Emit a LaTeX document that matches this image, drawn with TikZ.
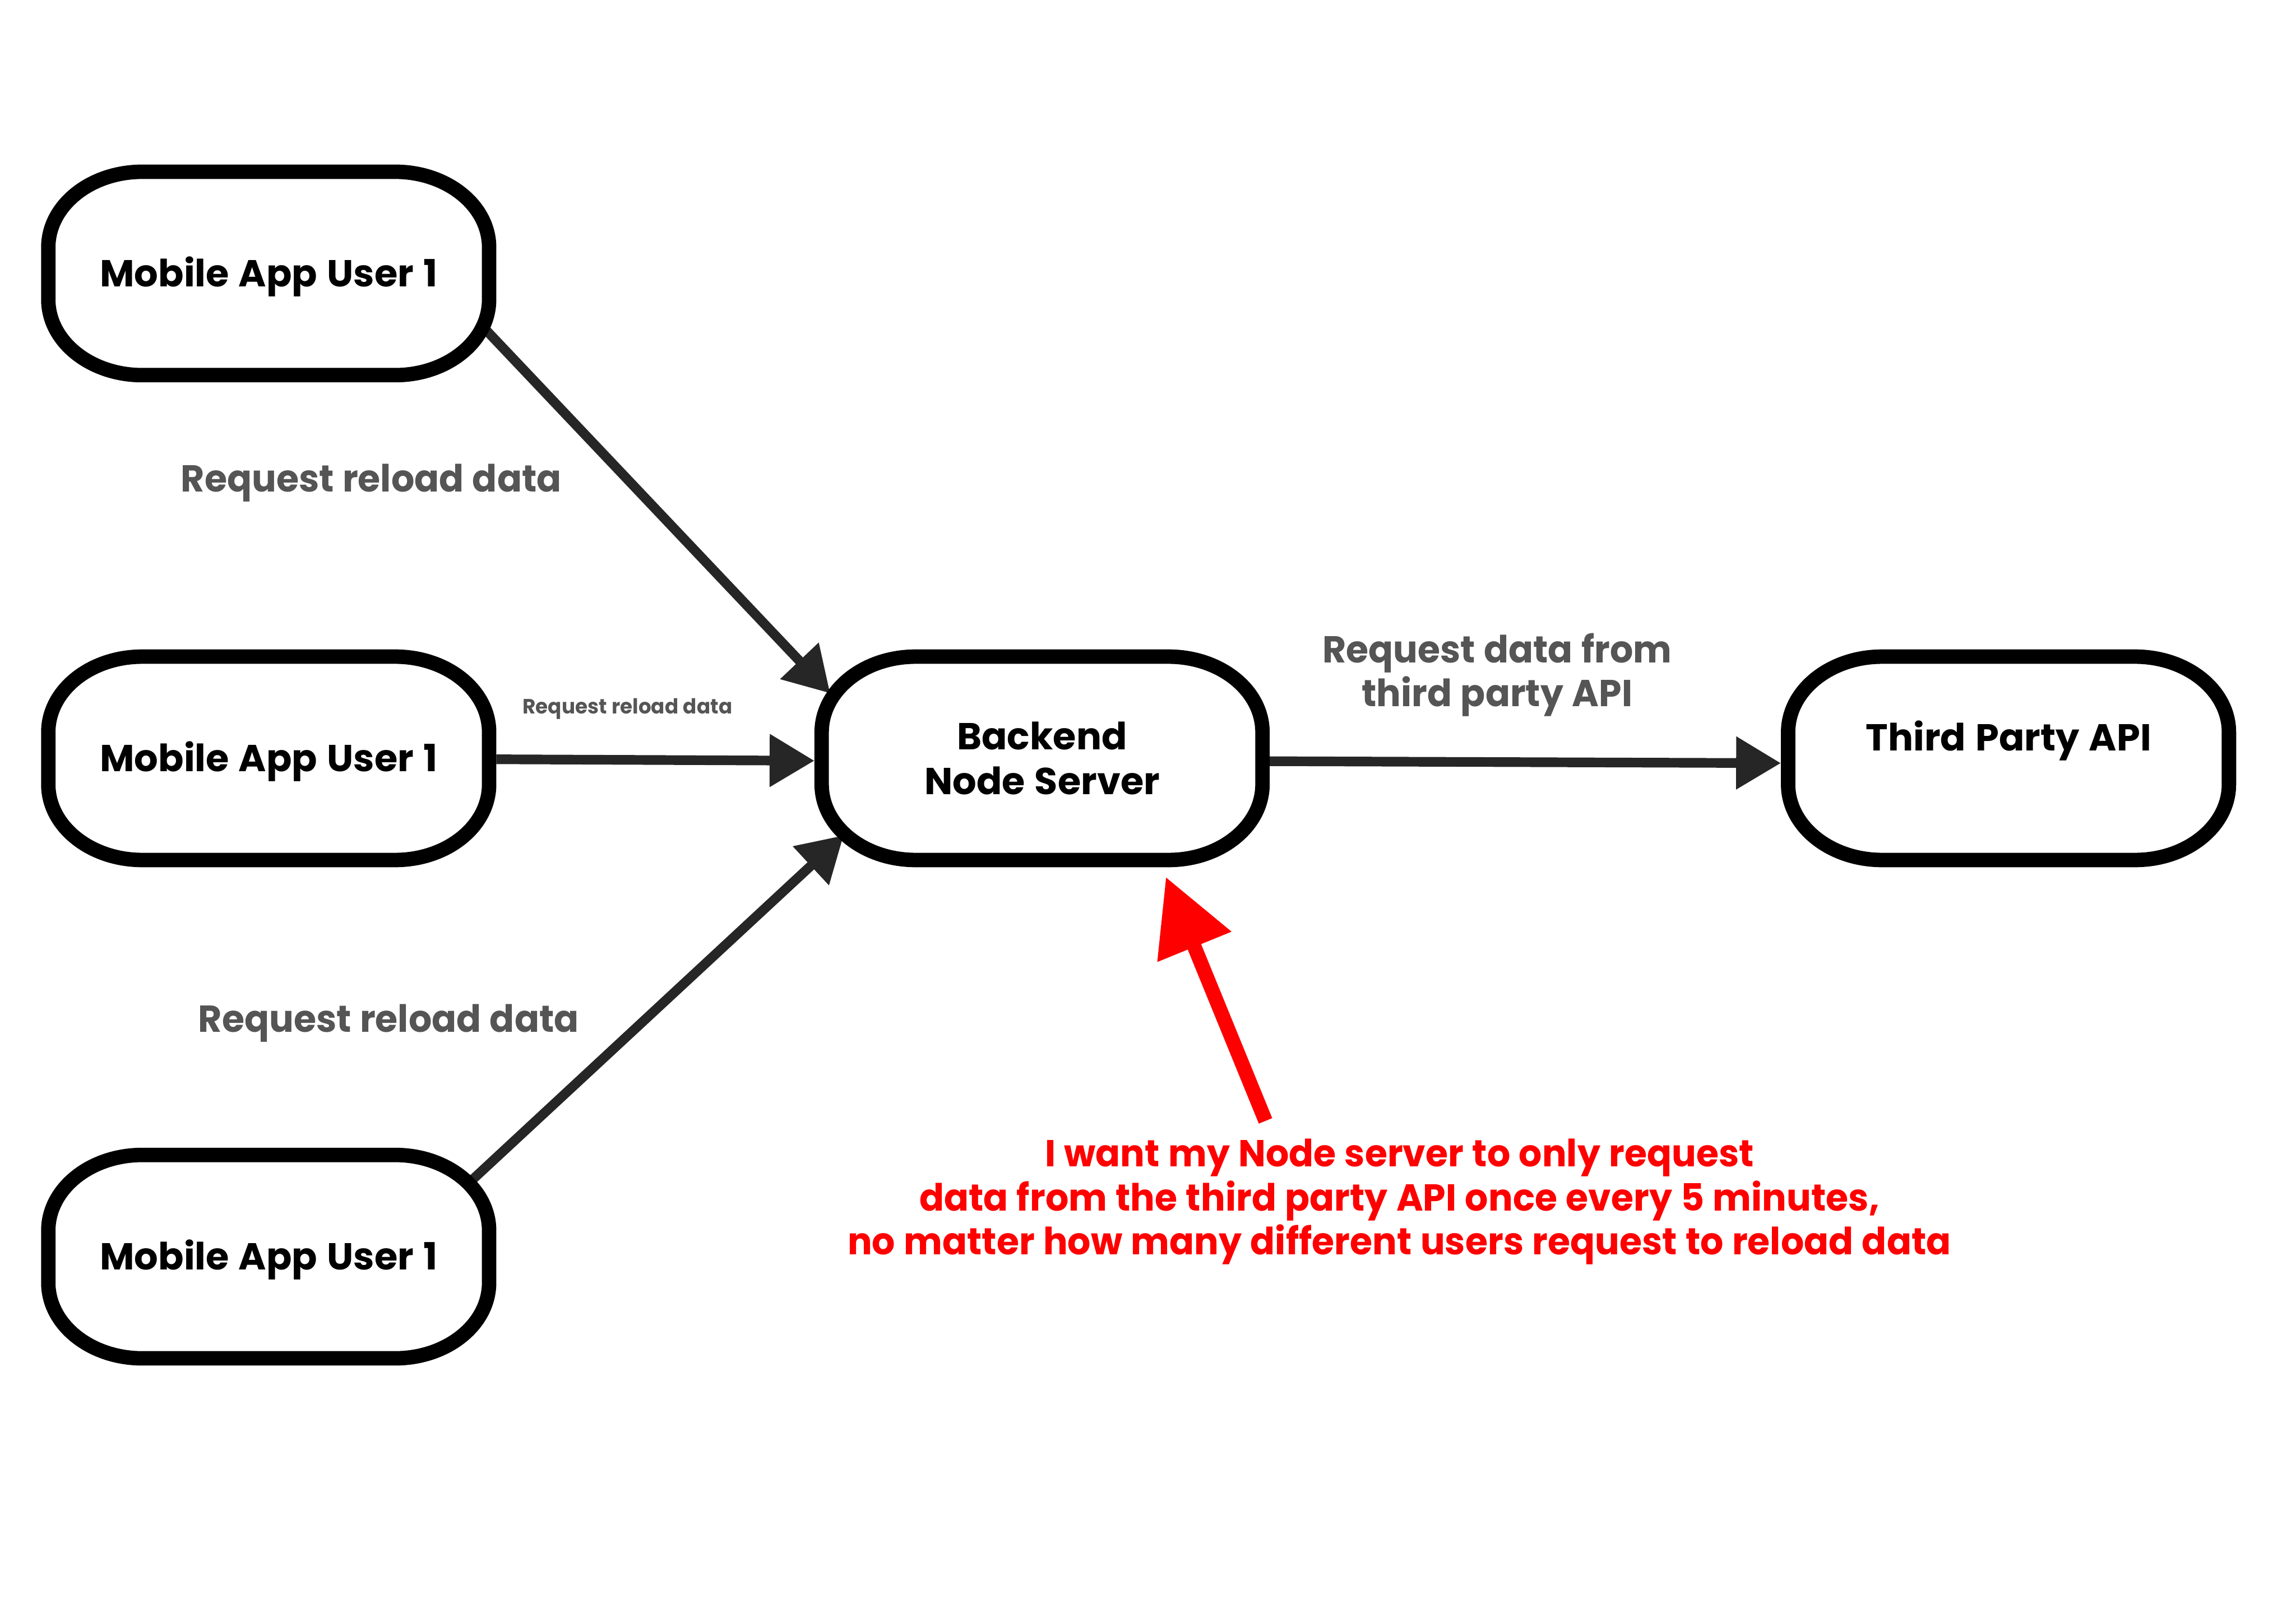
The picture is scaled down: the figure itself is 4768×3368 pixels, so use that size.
\documentclass[tikz,border=0pt]{standalone}
\usepackage{fontspec}
\newfontfamily\dfont{Poppins}[FakeStretch=1.0, WordSpace=1.2]
\newfontfamily\lfont{Poppins}[FakeStretch=0.97, WordSpace=1.1]
\usetikzlibrary{arrows.meta,calc}
\definecolor{lineC}{HTML}{262626}
\definecolor{labC}{HTML}{555555}
\definecolor{noteC}{HTML}{FF0000}
\newcommand\drawpill[1]{%
  \draw[pillline] ([shift={(210pt,-15pt)}]#1.north west)
    -- ([shift={(-210pt,-15pt)}]#1.north east)
    arc[start angle=90,end angle=0,x radius=195pt,y radius=157pt]
    -- ([shift={(-15pt,172pt)}]#1.south east)
    arc[start angle=0,end angle=-90,x radius=195pt,y radius=157pt]
    -- ([shift={(210pt,15pt)}]#1.south west)
    arc[start angle=-90,end angle=-180,x radius=195pt,y radius=157pt]
    -- ([shift={(15pt,-172pt)}]#1.north west)
    arc[start angle=180,end angle=90,x radius=195pt,y radius=157pt]
    -- cycle;}
\begin{document}
\begin{tikzpicture}[x=1pt,y=1pt,
  pill/.style={minimum width=945pt, minimum height=452pt, inner sep=0pt, align=center,
    font=\dfont\bfseries\fontsize{78}{94}\selectfont},
  onepill/.style={pill, text height=54pt, text depth=0pt},
  pillline/.style={draw=black, line width=30pt},
  conn/.style={draw=lineC, line width=20pt, -{Triangle[length=93pt,width=105pt]}},
  lab/.style={text=labC, align=center, inner sep=0pt, font=\lfont\bfseries\fontsize{78}{91}\selectfont},
  smalllab/.style={text=labC, inner sep=0pt, font=\lfont\bfseries\fontsize{43}{50}\selectfont},
  note/.style={text=noteC, align=center, inner sep=0pt, font=\lfont\bfseries\fontsize{78}{91}\selectfont},
  redarrow/.style={draw=noteC, line width=30pt, -{Triangle[length=157pt,width=158pt]}}
]
\fill[white] (0,0) rectangle (4768,3368);
\useasboundingbox (0,0) rectangle (4768,3368);

% nodes
\node[onepill] (u1) at (558,2800) {Mobile App User 1};
\node[onepill] (u2) at (558,1793) {Mobile App User 1};
\node[onepill] (u3) at (558,758) {Mobile App User 1};
\node[pill] (be) at (2164,1793) {Backend\\Node Server};
\node[pill] (tp) at (4171,1793) {Third Party API\\~};

% labels
\node[lab] (l1) at (771,2365) {Request reload data};
\node[smalllab] (l2) at (1303,1896) {Request reload data};
\node[lab] (l3) at (807,1243) {Request reload data};
\node[lab] (l4) at (3109,1966) {Request data from\\third party API};
\node[note] (nt) at (2906,872) {I want my Node server to only request\\data from the third party API once every 5 minutes,\\no matter how many different users request to reload data};

% connectors
\draw[conn] ($(u1.center)+(447,-113)$) -- ($(be.center)+(-440,135)$);
\draw[conn] ([yshift=-2pt]u2.east) -- ([yshift=-5pt]be.west);
\draw[conn] ($(u3.center)+(420,157)$) -- ($(be.center)+(-412,-160)$);
\draw[conn] ([yshift=-6pt]be.east) -- ([yshift=-10pt]tp.west);

% red arrow
\coordinate (rbase) at (2628,1040);
\draw[redarrow] (rbase) -- ($(be.south)+(257,-20)$);

% outlines
\drawpill{u1}
\drawpill{u2}
\drawpill{u3}
\drawpill{be}
\drawpill{tp}
\end{tikzpicture}
\end{document}
